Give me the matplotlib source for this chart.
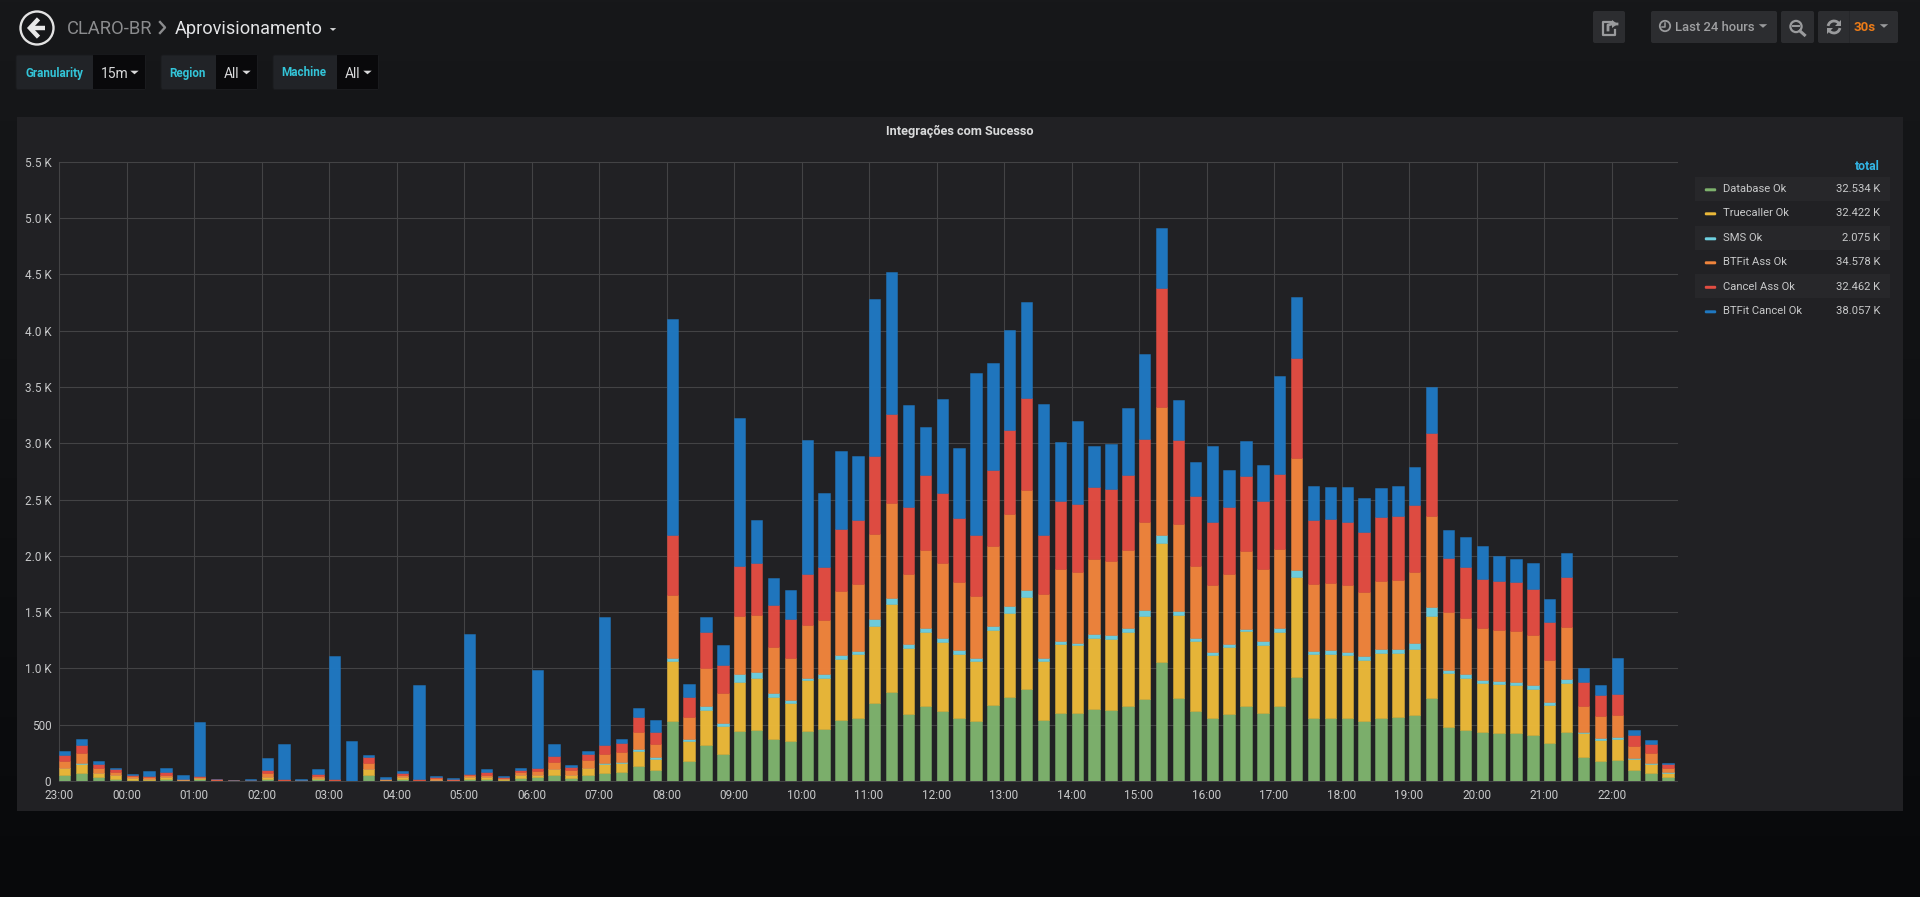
import numpy as np
import matplotlib
matplotlib.use("Agg")
import matplotlib.pyplot as plt
from matplotlib.patches import Rectangle, Circle, FancyBboxPatch, Arc, Polygon
from matplotlib.colors import to_rgba
from matplotlib.ticker import FixedLocator, FixedFormatter

plt.rcParams['font.family'] = ['Roboto', 'DejaVu Sans']

database_ok = [53,74,38,21,12,8,18,6,14,2,1,1,18,1,2,15,1,1,53,4,15,1,5,3,15,21,12,30,33,50,30,53,
               74,83,133,102,536,180,319,244,445,455,370,353,448,458,540,563,692,787,594,665,621,563,
               536,672,747,815,543,604,601,638,631,669,730,1059,740,625,563,597,662,604,662,927,563,
               560,560,533,563,570,587,733,482,456,438,429,429,411,340,438,213,180,186,98,74,38]
truecaller_ok = [59,74,33,29,14,12,15,6,13,3,2,3,20,1,3,15,2,0,54,6,20,2,8,4,20,12,6,20,20,57,26,62,
                 77,80,133,95,533,176,316,241,434,458,373,339,445,458,543,564,689,788,590,662,618,564,
                 530,669,746,818,526,611,604,635,628,658,733,1055,736,621,557,594,668,601,665,882,567,
                 567,557,539,571,567,584,733,475,458,435,429,423,409,335,432,216,187,190,97,77,33]
sms_ok = [6,15,3,3,1,0,1,0,0,0,0,0,1,0,0,1,0,0,1,0,0,0,0,0,0,0,0,0,0,1,1,1,
          9,9,18,17,20,17,27,27,71,54,38,28,23,31,37,27,61,54,34,31,34,37,
          23,34,65,64,24,31,24,34,34,31,54,75,34,20,27,24,21,37,31,64,24,
          34,27,38,37,37,51,78,31,33,24,27,27,32,29,32,9,15,12,9,12,6]
btfit_ass_ok = [57,83,38,24,18,18,22,3,9,5,2,3,35,6,4,16,7,1,52,6,15,5,11,6,18,20,12,30,33,61,41,67,
                83,85,148,119,560,194,339,269,513,506,407,369,472,485,570,594,751,838,618,692,662,601,
                557,709,811,886,567,634,628,662,659,692,784,1134,774,641,594,621,689,642,699,995,594,
                597,594,567,607,608,638,811,509,500,461,458,455,444,367,468,228,195,198,104,86,35]
cancel_ass_ok = [59,77,39,27,10,6,21,6,8,5,2,3,24,6,4,15,8,1,56,6,21,10,12,9,12,30,6,20,32,50,29,57,
                 77,80,136,98,533,183,319,247,444,462,373,347,452,465,547,570,695,791,597,665,621,570,
                 536,675,750,818,529,604,604,641,638,672,733,1059,743,625,560,594,665,604,668,886,567,
                 567,563,539,571,570,590,734,485,456,435,432,433,408,340,441,210,186,186,100,76,36]
btfit_cancel_ok = [29,47,24,11,7,44,38,35,480,3,5,4,109,319,7,42,1089,352,12,13,15,832,11,5,1237,21,8,15,865,112,12,23,
                   1136,39,77,112,1921,115,133,180,1321,380,238,261,1191,665,692,570,1395,1259,907,431,835,621,
                   1439,954,883,858,1161,530,740,363,407,591,761,529,353,305,672,336,319,315,873,546,305,
                   288,306,302,254,272,336,407,248,263,290,222,201,231,205,213,127,86,320,42,39,15]

series_names = ["Database Ok", "Truecaller Ok", "SMS Ok", "BTFit Ass Ok", "Cancel Ass Ok", "BTFit Cancel Ok"]
series_totals = ["32.534 K", "32.422 K", "2.075 K", "34.578 K", "32.462 K", "38.057 K"]
series_colors = ["#7EB26D", "#EAB839", "#6ED0E0", "#EF843C", "#E24D42", "#1F78C1"]
series_values = [database_ok, truecaller_ok, sms_ok, btfit_ass_ok, cancel_ass_ok, btfit_cancel_ok]

hour_labels = ["23:00","00:00","01:00","02:00","03:00","04:00","05:00","06:00","07:00","08:00","09:00",
               "10:00","11:00","12:00","13:00","14:00","15:00","16:00","17:00","18:00","19:00","20:00",
               "21:00","22:00"]
y_ticks = [0,500,1000,1500,2000,2500,3000,3500,4000,4500,5000,5500]
y_labels = ["0","500","1.0 K","1.5 K","2.0 K","2.5 K","3.0 K","3.5 K","4.0 K","4.5 K","5.0 K","5.5 K"]
minutes = np.arange(len(database_ok)) * 15

W, H = 1920, 897
fig = plt.figure(figsize=(W/100, H/100), dpi=100)

# ---------- page chrome in pixel coordinates ----------
ui = fig.add_axes([0, 0, 1, 1], zorder=0)
grad = np.linspace(0, 1, 256)[:, None, None] * (np.array([8, 9, 11]) - np.array([23, 24, 26])) + np.array([23, 24, 26])
ui.imshow(grad.astype(np.uint8), extent=[0, W, H, 0], aspect='auto', interpolation='bilinear', zorder=0)
ui.set_xlim(0, W); ui.set_ylim(H, 0); ui.axis('off')

ui.add_patch(Rectangle((17, 117), 1886, 694, fc="#212124", ec="none", zorder=1))

def box(x0, y0, x1, y1, fc, ec="none", r=2.0):
    ui.add_patch(FancyBboxPatch((x0+r, y0+r), x1-x0-2*r, y1-y0-2*r,
                 boxstyle=f"round,pad={r},rounding_size={r}", fc=fc, ec=ec, lw=0.7, zorder=2))

def caret(cx, cy, w=4.2, h=3.6, color="#d8d9da"):
    ui.add_patch(Polygon([[cx-w, cy-h/2], [cx+w, cy-h/2], [cx, cy+h/2]], fc=color, ec="none", zorder=4))

def txt(x, y, s, size, color, ha="left", weight="normal"):
    ui.text(x, y, s, fontsize=size, color=color, ha=ha, va="center", fontweight=weight, zorder=5)

# back button
ui.add_patch(Circle((37, 28), 16.5, fc="none", ec="#e3e3e3", lw=1.7, zorder=4))
ui.plot([29.5, 44.5], [28, 28], color="#e8e8e8", lw=3.2, solid_capstyle="butt", zorder=4)
ui.plot([37, 30, 37], [20.5, 28, 35.5], color="#e8e8e8", lw=3.2, solid_joinstyle="miter", zorder=4)

# breadcrumb
txt(67, 29, "CLARO-BR", 13.2, "#8b8c8e")
ui.plot([160, 165, 160], [22, 27.5, 33], color="#8b8c8e", lw=1.7, zorder=4)
txt(175, 29, "Aprovisionamento", 13.1, "#e3e4e6")
caret(333, 29.5, w=3.2, h=2.8)

# template variables
for x0, x1, x2, lab, val, lx, vx, cx in [(16, 93, 145.5, "Granularity", "15m", 25, 101, 134.5),
                                         (161, 215.5, 257.5, "Region", "All", 169.5, 224, 246.5),
                                         (273, 337, 378.5, "Machine", "All", 281.5, 345, 367.5)]:
    box(x0, 55, x2, 89.5, "#212327", ec="#1a1b1e")
    ui.add_patch(Rectangle((x1, 55.5), x2-x1-0.5, 33.5, fc="#09090b", ec="none", zorder=3))
    txt(lx, 73, lab, 8.4, "#33c5d9", weight="bold")
    txt(vx, 74, val, 10, "#d8d9da")
    caret(cx, 72.5)

# top right buttons
for x0, x1 in [(1593, 1625), (1651, 1777), (1781, 1814), (1818, 1898)]:
    box(x0, 11, x1, 43, "#2c2d30")
ui.add_patch(Rectangle((1849, 11), 0.8, 32, fc="#26272a", ec="none", zorder=3))
icon = "#9a9b9d"
# share icon
ui.plot([1612, 1603, 1603, 1615, 1615], [22, 22, 35, 35, 30], color=icon, lw=1.6, zorder=4)
ui.plot([1608, 1608, 1612, 1617], [30, 25, 24, 24], color=icon, lw=2.0, zorder=4)
ui.add_patch(Polygon([[1612, 20], [1617.5, 24], [1612, 28]], fc=icon, ec="none", zorder=4))
# clock
ui.add_patch(Circle((1665, 26), 5.2, fc="none", ec=icon, lw=1.3, zorder=4))
ui.plot([1665, 1665, 1662], [22.8, 27, 27], color=icon, lw=1.1, zorder=4)
txt(1675, 27.5, "Last 24 hours", 9.4, "#9fa0a2", weight="medium")
caret(1763, 26, w=4.2, h=3.6, color="#9a9b9d")
# zoom-out
ui.add_patch(Circle((1796, 26.5), 5.6, fc="none", ec=icon, lw=1.6, zorder=4))
ui.plot([1793, 1799], [26.5, 26.5], color=icon, lw=1.4, zorder=4)
ui.plot([1800, 1804.5], [31, 35], color=icon, lw=2.2, zorder=4)
# refresh
ui.add_patch(Arc((1834, 27), 12, 12, theta1=190, theta2=330, ec=icon, lw=2.0, zorder=4))
ui.add_patch(Arc((1834, 27), 12, 12, theta1=10, theta2=150, ec=icon, lw=2.0, zorder=4))
ui.add_patch(Polygon([[1841, 20], [1841, 26], [1835, 26]], fc=icon, ec="none", zorder=4))
ui.add_patch(Polygon([[1827, 34], [1827, 28], [1833, 28]], fc=icon, ec="none", zorder=4))
txt(1854, 27.5, "30s", 9.6, "#eb7b18", weight="bold")
caret(1884, 26, w=4.2, h=3.6, color="#9a9b9d")

# panel title
ui.text(960, 131.5, "Integrações com Sucesso", fontsize=9.2, color="#d8d9da", ha="center", va="center",
        fontweight="bold", zorder=5)

# legend
txt(1880, 166.5, "total", 8.8, "#33b5e5", ha="right", weight="bold")
row_y = [189, 213, 238, 262, 286.5, 311]
for k, (name, total, col) in enumerate(zip(series_names, series_totals, series_colors)):
    if k % 2 == 0:
        ui.add_patch(Rectangle((1695, row_y[k]-12), 195, 24, fc="#27272a", ec="none", zorder=2))
    ui.add_patch(FancyBboxPatch((1706, row_y[k]+0.5), 9, 0.6, boxstyle="round,pad=1.2,rounding_size=1.2",
                                fc=col, ec="none", zorder=4))
    txt(1723, row_y[k]+0.2, name, 8.1, "#c8c9ca")
    txt(1880, row_y[k]+0.2, total, 8.1, "#c8c9ca", ha="right")

# ---------- chart ----------
x_left, x_right, y_top, y_zero = 59.0, 1677.0, 161.8, 781.0
ax = fig.add_axes([x_left/W, 1-y_zero/H, (x_right-x_left)/W, (y_zero-y_top)/H], zorder=2)
ax.patch.set_alpha(0)
px_per_min = 67.5 / 60
ax.set_xlim(0, (x_right-x_left)/px_per_min)
ax.set_ylim(0, 5500)
bar_w = 11.4 / px_per_min

bottom = np.zeros(len(minutes))
for vals, col in zip(series_values, series_colors):
    vals = np.array(vals, float)
    ax.bar(minutes, vals, width=bar_w, bottom=bottom, align="edge",
           facecolor=to_rgba(col, 0.98), edgecolor=to_rgba(col, 0.55), linewidth=0.6, zorder=3)
    bottom += vals

for s in ax.spines.values():
    s.set_visible(False)
ax.xaxis.set_major_locator(FixedLocator(np.arange(len(hour_labels))*60))
ax.xaxis.set_major_formatter(FixedFormatter(hour_labels))
ax.yaxis.set_major_locator(FixedLocator(y_ticks))
ax.yaxis.set_major_formatter(FixedFormatter(y_labels))
ax.grid(True, color="#434345", lw=0.8, zorder=0)
ax.set_axisbelow(True)
ax.tick_params(axis="both", length=0, labelsize=8.5, labelcolor="#c8c9ca")
ax.tick_params(axis="x", pad=5.5)
ax.tick_params(axis="y", pad=5.5)
for line in ax.get_ygridlines() + ax.get_xgridlines():
    line.set_clip_on(False)

fig.savefig("out.png", dpi=100, facecolor="#141619")
